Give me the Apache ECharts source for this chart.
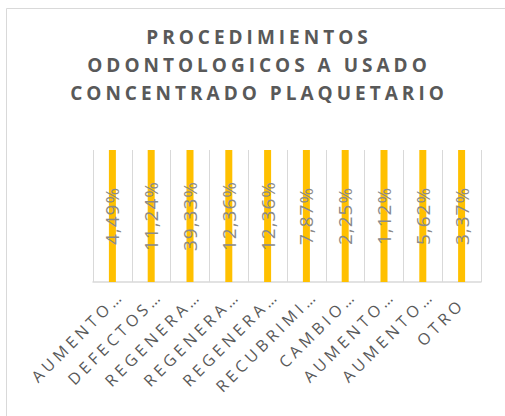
<!DOCTYPE html>
<html>
<head>
<meta charset="utf-8">
<script src="https://cdn.jsdelivr.net/npm/echarts@6/dist/echarts.min.js"></script>
<style>
html,body{margin:0;padding:0;background:#fff;}
#main{width:505px;height:416px;}
</style>
</head>
<body>
<div id="main"></div>
<script>
// Data (100% stacked column chart with a single series)
const titleText = 'PROCEDIMIENTOS\nODONTOLOGICOS A USADO\nCONCENTRADO PLAQUETARIO';
const categories = ['AUMENTO…','DEFECTOS…','REGENERA…','REGENERA…','REGENERA…','RECUBRIMI…','CAMBIO…','AUMENTO…','AUMENTO…','OTRO'];
const percentValues = [4.49, 11.24, 39.33, 12.36, 12.36, 7.87, 2.25, 1.12, 5.62, 3.37];
// In a 100% stacked chart each single-series column fills its whole stack
const stackShare = [100, 100, 100, 100, 100, 100, 100, 100, 100, 100];

const chart = echarts.init(document.getElementById('main'), null, {renderer: 'svg'});

const seriesData = stackShare.map((s, i) => ({value: s, pct: percentValues[i]}));
// Excel places truncated labels ("…") a bit further along their baseline
const axisData = categories.map(c => c.endsWith('…')
  ? {value: c, textStyle: {padding: [3, -12, -3, 0]}}
  : {value: c});

chart.setOption({
  animation: false,
  backgroundColor: '#fff',
  graphic: [{
    type: 'rect',
    shape: {x: 6.5, y: 8.5, width: 520, height: 430},
    style: {fill: 'none', stroke: '#d9d9d9', lineWidth: 1},
    silent: true
  }],
  title: {
    text: titleText,
    left: 259,
    top: 23,
    padding: 0,
    textAlign: 'center',
    textStyle: {
      color: '#595959',
      fontFamily: 'Open Sans',
      fontWeight: 'bold',
      fontSize: 19,
      lineHeight: 28
    }
  },
  grid: {left: 93, right: 24, top: 150, bottom: 134, containLabel: false},
  xAxis: {
    type: 'category',
    data: axisData,
    boundaryGap: true,
    axisLine: {show: true, lineStyle: {color: '#d9d9d9', width: 1.5}},
    axisTick: {show: false},
    splitLine: {show: true, lineStyle: {color: '#d9d9d9', width: 1}},
    axisLabel: {
      interval: 0,
      rotate: 45,
      margin: 19,
      color: '#595959',
      fontFamily: 'Open Sans',
      fontSize: 16
    }
  },
  yAxis: {
    type: 'value',
    min: 0,
    max: 100,
    show: false,
    splitLine: {show: false}
  },
  series: [{
    type: 'bar',
    data: seriesData,
    barWidth: 7,
    itemStyle: {color: '#FFC000'},
    label: {
      show: true,
      position: 'inside',
      rotate: 90,
      color: '#8a8a8a',
      fontFamily: 'Open Sans',
      fontSize: 19,
      formatter: p => p.data.pct.toFixed(2).replace('.', ',') + '%'
    }
  }]
});

function applySpacing() {
  const texts = document.querySelectorAll('#main svg text');
  texts.forEach(t => {
    const cs = getComputedStyle(t);
    const fw = parseInt(cs.fontWeight, 10) || 400;
    const txt = t.textContent || '';
    if (fw >= 600) t.setAttribute('letter-spacing', '4');
    else if (txt.indexOf('%') >= 0) t.setAttribute('letter-spacing', '1');
    else t.setAttribute('letter-spacing', '4');
  });
}
chart.on('finished', applySpacing);
applySpacing();
setTimeout(applySpacing, 50);
</script>
</body>
</html>
